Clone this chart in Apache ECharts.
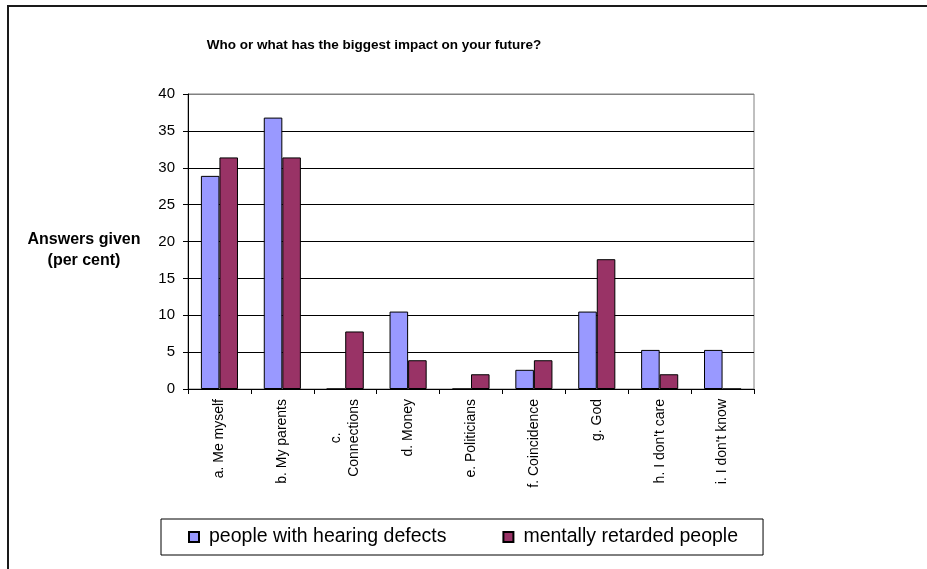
<!DOCTYPE html>
<html>
<head>
<meta charset="utf-8">
<script src="https://cdn.jsdelivr.net/npm/echarts@6/dist/echarts.min.js"></script>
<style>
html,body{margin:0;padding:0;background:#fff;}
#chart{width:927px;height:569px;}
</style>
</head>
<body>
<div id="chart"></div>
<script>
const categories = ['a. Me myself','b. My parents','c.\nConnections','d. Money','e. Politicians','f. Coincidence','g. God',"h. I don't care","i. I don't know"];
const hearingDefects = [28.9, 36.8, 0, 10.5, 0, 2.6, 10.5, 5.3, 5.3];
const mentallyRetarded = [31.4, 31.4, 7.8, 3.9, 2.0, 3.9, 17.6, 2.0, 0];
const seriesNames = ['people with hearing defects','mentally retarded people'];
const titleText = 'Who or what has the biggest impact on your future?';
const yAxisName = 'Answers given\n(per cent)';

const FONT = '"Liberation Sans", Arial, sans-serif';

const chart = echarts.init(document.getElementById('chart'), null, {renderer:'canvas'});
chart.setOption({
  backgroundColor:'#fff',
  animation:false,
  title:{
    text:titleText, left:369, top:33, textAlign:'center',
    textStyle:{fontFamily:FONT, fontSize:13.5, fontWeight:'bold', color:'#000'}
  },
  graphic:[
    {type:'rect', shape:{x:8, y:6, width:1000, height:1000}, style:{fill:null, stroke:'#1a1a1a', lineWidth:2}, silent:true},
    {type:'text', x:84, y:229, silent:true, style:{text:yAxisName, font:'bold 16px "Liberation Sans", Arial, sans-serif', fill:'#000', textAlign:'center', textVerticalAlign:'top', lineHeight:21}}
  ],
  grid:{left:188, right:173, top:94, bottom:180, show:true, borderColor:'#808080', borderWidth:1, backgroundColor:'transparent'},
  legend:{
    data:seriesNames, left:161, top:519, orient:'horizontal',
    itemWidth:10, itemHeight:10, itemGap:56,
    padding:[8,25,8,27],
    borderColor:'#000', borderWidth:1,
    textStyle:{fontFamily:FONT, fontSize:19.5, color:'#000', padding:[0,0,0,5]},
    icon:'rect'
  },
  xAxis:{
    type:'category', data:categories,
    axisLine:{lineStyle:{color:'#000', width:1}},
    axisTick:{show:true, length:5, inside:false, alignWithLabel:false, lineStyle:{color:'#000'}},
    axisLabel:{rotate:90, margin:10, fontFamily:FONT, fontSize:14, color:'#000', interval:0, lineHeight:18,
      formatter:function(v){
        const parts = v.split('\n');
        if (parts.length < 2) return v;
        return '{c|' + parts[0] + '}\n{n|' + parts[1] + '}';
      },
      rich:{
        c:{width:77, align:'center', fontFamily:FONT, fontSize:14, color:'#000', lineHeight:18},
        n:{fontFamily:FONT, fontSize:14, color:'#000', lineHeight:18}
      }
    }
  },
  yAxis:{
    type:'value', min:0, max:40, interval:5,
    axisLine:{show:true, lineStyle:{color:'#000', width:1}},
    axisTick:{show:true, length:5, inside:false, lineStyle:{color:'#000'}},
    axisLabel:{margin:13, fontFamily:FONT, fontSize:15, color:'#000'},
    splitLine:{show:true, lineStyle:{color:['#000','#000','#000','#000','#000','#000','#000','#000','#808080'], width:1}}
  },
  series:[
    {name:seriesNames[0], type:'bar', data:hearingDefects, barGap:'0%', barCategoryGap:'41%',
     itemStyle:{color:'#9999FF', borderColor:'#000', borderWidth:1}},
    {name:seriesNames[1], type:'bar', data:mentallyRetarded, barGap:'0%', barCategoryGap:'41%',
     itemStyle:{color:'#993366', borderColor:'#000', borderWidth:1}}
  ]
});
</script>
</body>
</html>
